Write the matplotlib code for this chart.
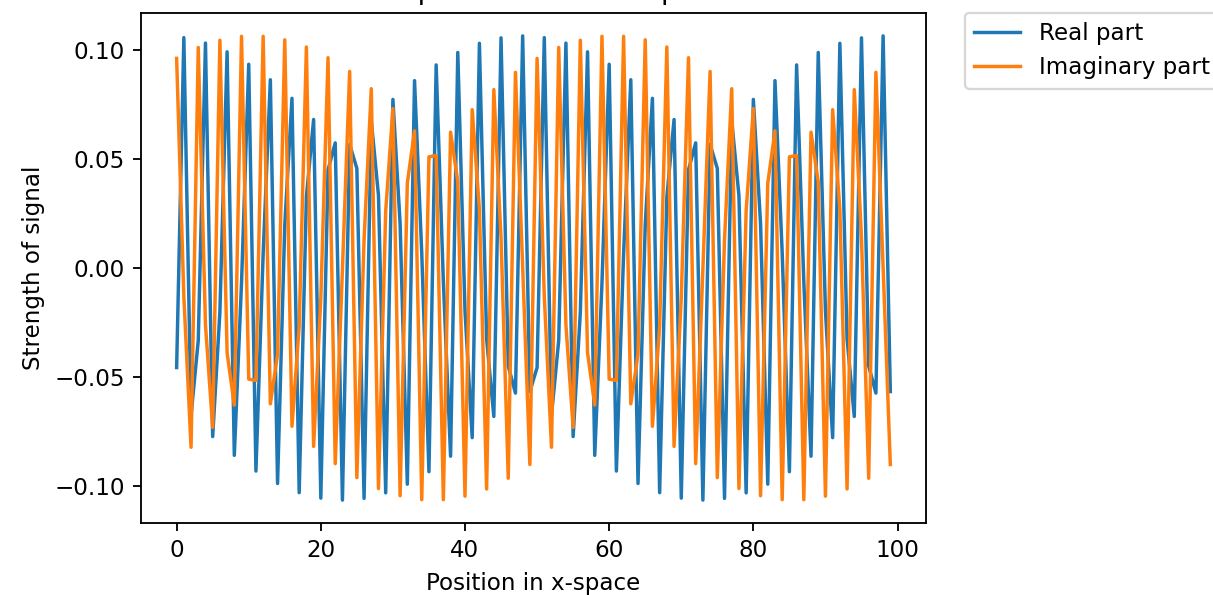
import matplotlib
matplotlib.use("Agg")
import matplotlib.pyplot as plt
import numpy as np

# sampled signal, positions 0..99
real_part = [
    -0.0456, 0.1055, -0.0675, -0.0332, 0.1030, -0.0772, -0.0203, 0.0990, -0.0858, -0.0070,
    0.0933, -0.0930, 0.0063, 0.0862, -0.0987, 0.0196, 0.0777, -0.1029, 0.0325, 0.0680,
    -0.1054, 0.0449, 0.0573, -0.1063, 0.0566, 0.0456, -0.1055, 0.0675, 0.0332, -0.1030,
    0.0772, 0.0203, -0.0990, 0.0858, 0.0070, -0.0933, 0.0930, -0.0063, -0.0862, 0.0987,
    -0.0196, -0.0777, 0.1029, -0.0325, -0.0680, 0.1054, -0.0449, -0.0573, 0.1063, -0.0566,
    -0.0456, 0.1055, -0.0675, -0.0332, 0.1030, -0.0772, -0.0203, 0.0990, -0.0858, -0.0070,
    0.0933, -0.0930, 0.0063, 0.0862, -0.0987, 0.0196, 0.0777, -0.1029, 0.0325, 0.0680,
    -0.1054, 0.0449, 0.0573, -0.1063, 0.0566, 0.0456, -0.1055, 0.0675, 0.0332, -0.1030,
    0.0772, 0.0203, -0.0990, 0.0858, 0.0070, -0.0933, 0.0930, -0.0063, -0.0862, 0.0987,
    -0.0196, -0.0777, 0.1029, -0.0325, -0.0680, 0.1054, -0.0449, -0.0573, 0.1063, -0.0566,
]
imag_part = [
    0.0960, -0.0130, -0.0821, 0.1010, -0.0261, -0.0730, 0.1043, -0.0388, -0.0628, 0.1061,
    -0.0509, -0.0515, 0.1061, -0.0622, -0.0395, 0.1045, -0.0725, -0.0268, 0.1012, -0.0817,
    -0.0137, 0.0963, -0.0896, -0.0004, 0.0900, -0.0960, 0.0130, 0.0821, -0.1010, 0.0261,
    0.0730, -0.1043, 0.0388, 0.0628, -0.1061, 0.0509, 0.0515, -0.1061, 0.0622, 0.0395,
    -0.1045, 0.0725, 0.0268, -0.1012, 0.0817, 0.0137, -0.0963, 0.0896, 0.0004, -0.0900,
    0.0960, -0.0130, -0.0821, 0.1010, -0.0261, -0.0730, 0.1043, -0.0388, -0.0628, 0.1061,
    -0.0509, -0.0515, 0.1061, -0.0622, -0.0395, 0.1045, -0.0725, -0.0268, 0.1012, -0.0817,
    -0.0137, 0.0963, -0.0896, -0.0004, 0.0900, -0.0960, 0.0130, 0.0821, -0.1010, 0.0261,
    0.0730, -0.1043, 0.0388, 0.0628, -0.1061, 0.0509, 0.0515, -0.1061, 0.0622, 0.0395,
    -0.1045, 0.0725, 0.0268, -0.1012, 0.0817, 0.0137, -0.0963, 0.0896, 0.0004, -0.0900,
]
position = np.arange(len(real_part))

DPI = 165.6
fig = plt.figure(figsize=(1213 / DPI, 595 / DPI), dpi=DPI)
ax = fig.add_axes([0.1162, 0.1205, 0.6472, 0.8582])

ax.plot(position, real_part, color="#1f77b4", label="Real part")
ax.plot(position, imag_part, color="#ff7f0e", label="Imaginary part")

ax.set_title("Example for data in x-space")
ax.set_xlabel("Position in x-space")
ax.set_ylabel("Strength of signal")
ax.set_xticks([0, 20, 40, 60, 80, 100])
ax.set_yticks([-0.10, -0.05, 0.00, 0.05, 0.10])
ax.legend(bbox_to_anchor=(1.05, 1), loc="upper left", borderaxespad=0.)

fig.savefig("out.png", dpi=DPI)
